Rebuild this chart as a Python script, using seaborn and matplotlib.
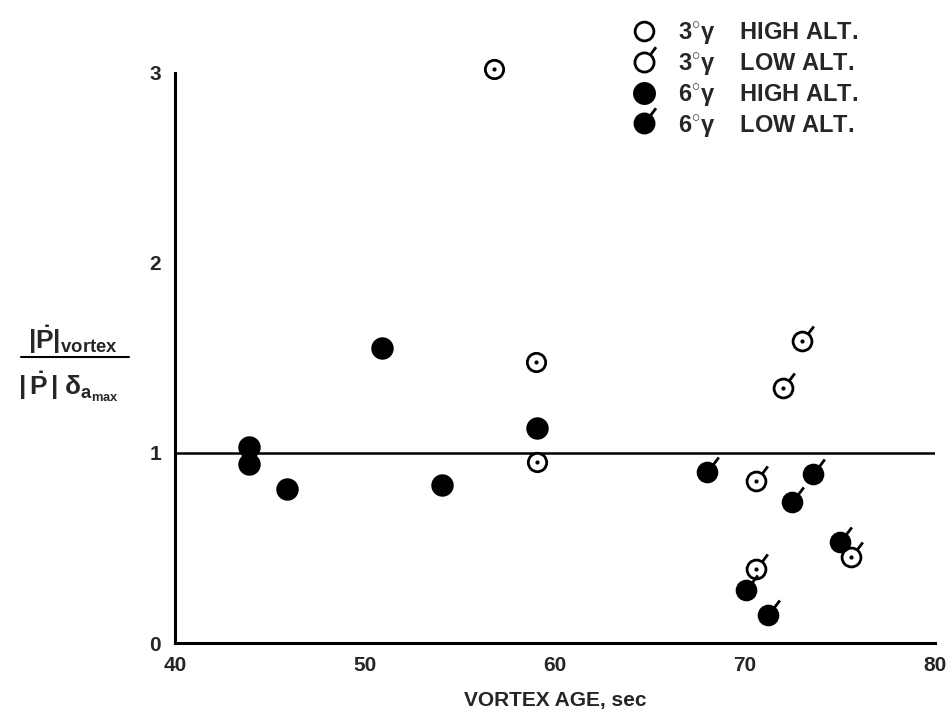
import numpy as np
import pandas as pd
import seaborn as sns
import matplotlib.pyplot as plt
from matplotlib.path import Path
from matplotlib.lines import Line2D

# values
age_3_high = [56.8, 59.0, 59.05]
ratio_3_high = [3.02, 1.48, 0.95]

age_3_low = [73.0, 72.0, 70.6, 75.6, 70.6]
ratio_3_low = [1.59, 1.34, 0.85, 0.45, 0.39]

age_6_high = [43.9, 43.9, 45.9, 50.9, 54.05, 59.05]
ratio_6_high = [1.03, 0.94, 0.81, 1.55, 0.83, 1.13]

age_6_low = [68.0, 73.6, 72.5, 75.0, 70.05, 71.2]
ratio_6_low = [0.90, 0.89, 0.74, 0.53, 0.28, 0.15]

legend_labels = [r"3$^{\circ}\gamma$    HIGH ALT.", r"3$^{\circ}\gamma$    LOW ALT.",
                 r"6$^{\circ}\gamma$    HIGH ALT.", r"6$^{\circ}\gamma$    LOW ALT."]
x_ticks = [40, 50, 60, 70, 80]
y_ticks = [0, 1, 2, 3]

sns.set_style("white")
plt.rcParams['font.family'] = ['Liberation Sans', 'DejaVu Sans']
plt.rcParams['font.weight'] = 'bold'
plt.rcParams['mathtext.fontset'] = 'custom'
plt.rcParams['mathtext.rm'] = 'Liberation Sans:bold'
plt.rcParams['mathtext.bf'] = 'Liberation Sans:bold'
plt.rcParams['mathtext.it'] = 'Liberation Sans:bold'


def tail_marker():
    # circle with a short stroke going up-right (the "low alt." flag)
    ang = np.deg2rad(53)
    c, s = np.cos(ang), np.sin(ang)
    tail = Path([[c, s], [2.0 * c, 2.0 * s]], [Path.MOVETO, Path.LINETO])
    return Path.make_compound_path(Path.unit_circle(), tail)


flag = tail_marker()

df = pd.concat([
    pd.DataFrame({'age': age_3_high, 'ratio': ratio_3_high, 'group': '3 high'}),
    pd.DataFrame({'age': age_3_low, 'ratio': ratio_3_low, 'group': '3 low'}),
    pd.DataFrame({'age': age_6_high, 'ratio': ratio_6_high, 'group': '6 high'}),
    pd.DataFrame({'age': age_6_low, 'ratio': ratio_6_low, 'group': '6 low'}),
], ignore_index=True)

fig = plt.figure(figsize=(9.53, 7.19), dpi=100)
ax = fig.add_axes([0.1836, 0.1057, 0.7975, 0.7928])

ax.axhline(1.0, color='black', lw=1.8, zorder=1)

styles = {
    '3 high': dict(marker='o', s=175, color='white'),
    '3 low': dict(marker=flag, s=470, color='white'),
    '6 high': dict(marker='o', s=200, color='black'),
    '6 low': dict(marker=flag, s=470, color='black'),
}
for grp, st in styles.items():
    sub = df[df['group'] == grp]
    sns.scatterplot(data=sub, x='age', y='ratio', ax=ax, marker=st['marker'], s=st['s'],
                    color=st['color'], edgecolor='black', linewidth=2.0, zorder=3,
                    clip_on=False, legend=False)

# small centre dot inside the open circles
opn = df[df['group'].isin(['3 high', '3 low'])]
ax.scatter(opn['age'], opn['ratio'], s=4, color='black', zorder=4, clip_on=False)

ax.set_xlim(40, 80)
ax.set_ylim(0, 3)
ax.set_xticks(x_ticks)
ax.set_yticks(y_ticks)
ax.tick_params(axis='both', direction='in', width=2.2, labelsize=15, color='black')
ax.tick_params(axis='x', length=13, pad=9)
ax.tick_params(axis='y', length=14, pad=10)
for lab in ax.get_xticklabels() + ax.get_yticklabels():
    lab.set_fontweight('bold')

sns.despine(ax=ax)
for side in ['left', 'bottom']:
    ax.spines[side].set_linewidth(2.2)
    ax.spines[side].set_color('black')

ax.set_xlabel("VORTEX AGE, sec", fontsize=15, fontweight='bold', labelpad=12)
ax.set_ylabel("")

# fraction-style y label
fig.text(0.077, 0.527, r"$|\dot{\mathrm{P}}|_{\mathbf{vortex}}$", fontsize=19,
         ha='center', va='center')
fig.add_artist(Line2D([0.022, 0.135], [0.503, 0.503], color='black', lw=1.5))
fig.text(0.072, 0.462, r"$|\,\dot{\mathrm{P}}\,|\;\delta_{\mathbf{a}_{\mathbf{max}}}$", fontsize=19,
         ha='center', va='center')

handles = [
    Line2D([], [], ls='none', marker='o', ms=13.5, mfc='white', mec='black', mew=2.0),
    Line2D([], [], ls='none', marker=flag, ms=22, mfc='white', mec='black', mew=2.0),
    Line2D([], [], ls='none', marker='o', ms=14.5, mfc='black', mec='black', mew=2.0),
    Line2D([], [], ls='none', marker=flag, ms=22, mfc='black', mec='black', mew=2.0),
]
fig.legend(handles, legend_labels, loc='upper left', bbox_to_anchor=(0.651, 0.988),
           frameon=False, fontsize=17, handletextpad=0.95, labelspacing=0.2,
           handlelength=1.0, borderpad=0)

fig.savefig('out.png', dpi=100)
